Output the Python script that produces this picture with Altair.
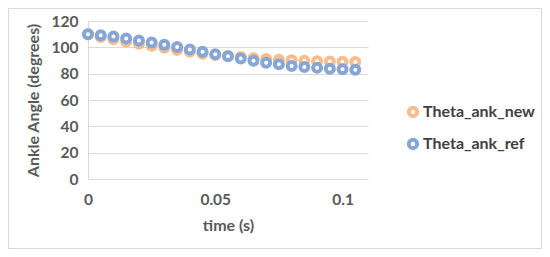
import altair as alt
import pandas as pd

time_s = [0.000, 0.005, 0.010, 0.015, 0.020, 0.025, 0.030, 0.035, 0.040, 0.045, 0.050,
          0.055, 0.060, 0.065, 0.070, 0.075, 0.080, 0.085, 0.090, 0.095, 0.100, 0.105]
theta_ank_new = [110.0, 107.8, 106.2, 104.4, 102.8, 101.2, 99.6, 98.0, 96.6, 95.2, 94.2,
                 93.4, 92.6, 91.8, 91.2, 90.6, 90.2, 89.8, 89.5, 89.2, 89.0, 88.8]
theta_ank_ref = [110.0, 109.2, 108.2, 106.8, 105.2, 103.6, 102.0, 100.2, 98.4, 96.6, 94.8,
                 93.3, 91.6, 89.8, 88.3, 87.2, 85.8, 85.0, 84.4, 83.8, 83.3, 83.0]
series_names = ["Theta_ank_new", "Theta_ank_ref"]
series_colors = ["#F7BD8D", "#87A6D6"]
y_ticks = [0, 20, 40, 60, 80, 100, 120]
x_ticks = [0, 0.05, 0.1]

rows = []
for name, vals in zip(series_names, [theta_ank_new, theta_ank_ref]):
    for t, v in zip(time_s, vals):
        rows.append({"time": t, "angle": v, "series": name})
df = pd.DataFrame(rows)

FONT = "Lato"
TXT = "#595959"
W, H = 280, 158
PL, PT = 80, 13
TOTAL_W, TOTAL_H = 534, 241

points = alt.Chart(df).mark_point(
    shape="circle", filled=False, fill="white", fillOpacity=1, strokeWidth=4, size=64, opacity=1
).encode(
    x=alt.X("time:Q", scale=alt.Scale(domain=[0, 0.11], nice=False),
            axis=alt.Axis(values=x_ticks, title="time (s)", grid=False, ticks=False,
                          domain=False, labelPadding=13, titlePadding=10,
                          labelFlush=False, format="~g")),
    y=alt.Y("angle:Q", scale=alt.Scale(domain=[0, 120], nice=False),
            axis=alt.Axis(values=y_ticks, title="Ankle Angle (degrees)", grid=True,
                          ticks=False, domain=True, labelPadding=10, titlePadding=10)),
    color=alt.Color("series:N", scale=alt.Scale(domain=series_names, range=series_colors),
                    legend=alt.Legend(title=None, orient="none", legendX=317, legendY=83,
                                      symbolType="circle", symbolSize=70, symbolStrokeWidth=4,
                                      symbolFillColor="white", rowPadding=6,
                                      labelFontSize=16, labelFont=FONT, labelFontWeight="bold",
                                      labelColor="#404040", labelLimit=300, labelOffset=2)),
)

frame = alt.Chart(pd.DataFrame({"a": [0]})).mark_rect(
    fill=None, stroke="#d9d9d9", strokeWidth=1
).encode(
    x=alt.value(-PL + 0.5), x2=alt.value(TOTAL_W - PL - 0.5),
    y=alt.value(-PT + 0.5), y2=alt.value(TOTAL_H - PT - 0.5),
)

chart = alt.layer(frame, points).properties(
    width=W, height=H,
    autosize=alt.AutoSizeParams(type="none"),
    padding={"left": PL, "top": PT, "right": TOTAL_W - PL - W, "bottom": TOTAL_H - PT - H},
).configure_view(stroke=None).configure_axis(
    labelFont=FONT, titleFont=FONT, labelFontSize=15.5, titleFontSize=16,
    labelFontWeight="bold", titleFontWeight="bold", labelColor=TXT, titleColor=TXT,
    gridColor="#d9d9d9", domainColor="#d9d9d9", gridWidth=1,
)

chart.save("out.html", embed_options={"renderer": "svg", "actions": False})
